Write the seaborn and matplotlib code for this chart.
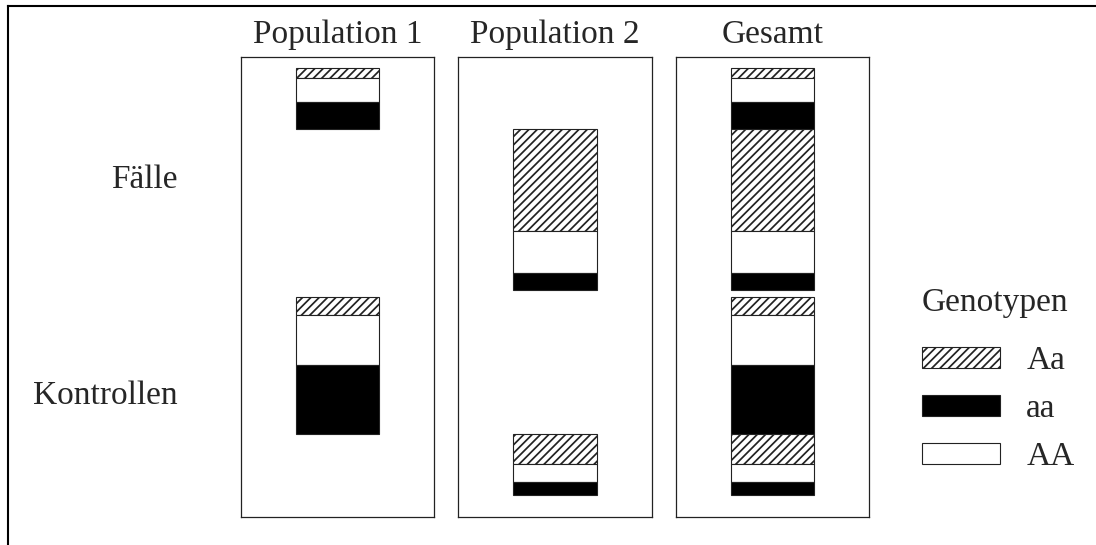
import matplotlib
matplotlib.use("Agg")
import matplotlib.pyplot as plt
from matplotlib.patches import Patch
import pandas as pd
import seaborn as sns

# chart data (segment heights, same units for all panels)
panels = ["Population 1", "Population 2", "Gesamt"]
groups = ["Fälle", "Kontrollen"]
genotypes = ["Aa", "AA", "aa"]          # stacking order, top to bottom
legend_order = ["Aa", "aa", "AA"]
faelle_pop1 = [9.5, 24.5, 26.5]
faelle_pop2 = [102, 42, 17.5]
kontrollen_pop1 = [17.5, 50.5, 68.5]
kontrollen_pop2 = [30, 18.5, 12.5]

group_gap = 7
styles = {
    "Aa": dict(color="white", hatch="////"),
    "AA": dict(color="white"),
    "aa": dict(color="black"),
}

# build the segment table: Gesamt = population 1 stacked on population 2
rows = []
group_centers = []
offset = 0
for group, pop_values in zip(groups, [[faelle_pop1, faelle_pop2], [kontrollen_pop1, kontrollen_pop2]]):
    start = offset
    for pop, values in zip(panels[:2], pop_values):
        for g, v in zip(genotypes, values):
            rows.append(dict(group=group, population=pop, genotype=g, start=start, height=v))
            start += v
    group_centers.append((offset + start) / 2)
    offset = start + group_gap
seg = pd.DataFrame(rows)

sns.set_style("white")
plt.rcParams['font.family'] = ['Liberation Serif', 'DejaVu Serif']
plt.rcParams['hatch.linewidth'] = 1.25

W, H = 1096, 545
fig = plt.figure(figsize=(W / 100, H / 100), dpi=100)

# outer frame (only top and left edges are visible)
frame = fig.add_axes([7.8 / W, -0.01, 1, (H - 5.8) / H + 0.01], zorder=-1)
frame.set_facecolor("none")
frame.set_xticks([])
frame.set_yticks([])
frame.spines["right"].set_visible(False)
frame.spines["bottom"].set_visible(False)
for s in ["top", "left"]:
    frame.spines[s].set_linewidth(1.5)
    frame.spines[s].set_color("black")

lefts = [241, 458.3, 675.7]
pw = 193.3
top_px, bot_px = 56.7, 517
y_top, y_bot = -11.6, 448.7

for i, panel in enumerate(panels):
    ax = fig.add_axes([lefts[i] / W, (H - bot_px) / H, pw / W, (bot_px - top_px) / H])
    sub = seg if panel == "Gesamt" else seg[seg["population"] == panel]
    for _, r in sub.iterrows():
        sns.barplot(x=[panel], y=[r["height"]], bottom=r["start"], width=0.43,
                    saturation=1, edgecolor="#222222", linewidth=0.8, ax=ax,
                    **styles[r["genotype"]])
    ax.set_xlim(-0.5, 0.5)
    ax.set_ylim(y_bot, y_top)
    ax.set_xticks([])
    ax.set_xlabel("")
    ax.set_ylabel("")
    ax.set_title(panel, fontsize=24, pad=10)
    for s in ax.spines.values():
        s.set_linewidth(0.9)
        s.set_color("#222222")
    if i == 0:
        ax.set_yticks(group_centers)
        ax.set_yticklabels(groups, fontsize=24, va="center")
        ax.tick_params(axis="y", length=0, pad=45.7)
    else:
        ax.set_yticks([])

handles = [Patch(facecolor=styles[g]["color"], hatch=styles[g].get("hatch"),
                 edgecolor="#222222", linewidth=0.8) for g in legend_order]
leg = fig.legend(handles, legend_order, loc="upper left",
                 bbox_to_anchor=(921.7 / W, 1 - 287 / H), frameon=False,
                 fontsize=24, title="Genotypen", title_fontsize=24, alignment="left",
                 handlelength=2.34, handleheight=0.57, handletextpad=0.8,
                 labelspacing=0.525, borderpad=0, borderaxespad=0)
# wider gap between title and first entry
leg._legend_box.sep = 20.2

fig.savefig("out.png", dpi=100)
